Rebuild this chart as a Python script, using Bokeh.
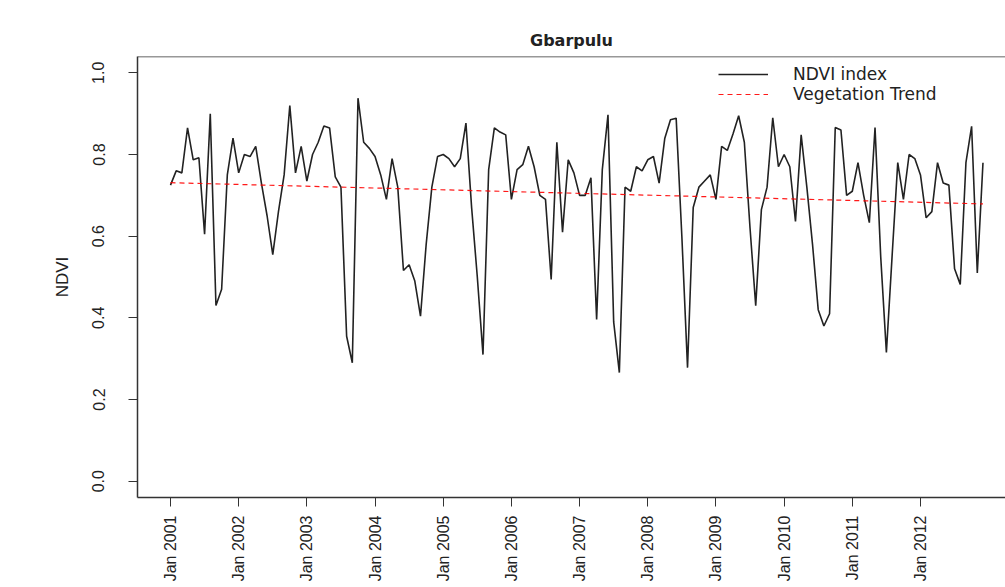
import numpy as np
from bokeh.plotting import figure
from bokeh.models import FixedTicker, Span, Legend, LegendItem, Range1d
from bokeh.embed import file_html
from bokeh.resources import INLINE

# ---- data (monthly NDVI, Jan 2001 .. Dec 2012) ----
start_year = 2001
ndvi = [
    0.725, 0.760, 0.755, 0.865, 0.787, 0.792, 0.605, 0.900, 0.430, 0.470, 0.750, 0.840,  # 2001
    0.755, 0.800, 0.795, 0.820, 0.730, 0.650, 0.555, 0.660, 0.750, 0.920, 0.755, 0.820,  # 2002
    0.735, 0.800, 0.830, 0.870, 0.865, 0.745, 0.720, 0.355, 0.290, 0.938, 0.830, 0.815,  # 2003
    0.795, 0.750, 0.690, 0.790, 0.720, 0.516, 0.530, 0.490, 0.404, 0.580, 0.720, 0.795,  # 2004
    0.800, 0.790, 0.770, 0.790, 0.877, 0.670, 0.500, 0.310, 0.763, 0.865, 0.855, 0.848,  # 2005
    0.690, 0.763, 0.775, 0.820, 0.770, 0.700, 0.690, 0.494, 0.830, 0.610, 0.787, 0.755,  # 2006
    0.700, 0.700, 0.743, 0.396, 0.763, 0.897, 0.390, 0.266, 0.720, 0.710, 0.770, 0.760,  # 2007
    0.787, 0.795, 0.730, 0.840, 0.885, 0.889, 0.600, 0.278, 0.670, 0.720, 0.735, 0.750,  # 2008
    0.690, 0.820, 0.810, 0.850, 0.895, 0.830, 0.620, 0.430, 0.665, 0.720, 0.890, 0.770,  # 2009
    0.800, 0.770, 0.636, 0.848, 0.720, 0.580, 0.420, 0.380, 0.410, 0.866, 0.860, 0.700,  # 2010
    0.710, 0.780, 0.700, 0.633, 0.866, 0.550, 0.315, 0.550, 0.780, 0.690, 0.800, 0.790,  # 2011
    0.750, 0.645, 0.660, 0.780, 0.730, 0.725, 0.520, 0.482, 0.780, 0.869, 0.510, 0.780,  # 2012
]
trend_ends = [0.731, 0.679]          # fitted trend at first and last month
year_ticks = [2001, 2002, 2003, 2004, 2005, 2006, 2007, 2008, 2009, 2010, 2011, 2012]
year_labels = ["Jan 2001", "Jan 2002", "Jan 2003", "Jan 2004", "Jan 2005", "Jan 2006",
               "Jan 2007", "Jan 2008", "Jan 2009", "Jan 2010", "Jan 2011", "Jan 2012"]
y_ticks = [0.0, 0.2, 0.4, 0.6, 0.8, 1.0]
y_labels = ["0.0", "0.2", "0.4", "0.6", "0.8", "1.0"]

t = [start_year + i / 12 for i in range(len(ndvi))]

NARROW = "Liberation Sans"
INK = "#222222"

p = figure(width=1005, height=587, output_backend="svg", toolbar_location=None,
           title="Gbarpulu",
           x_range=Range1d(2000.516, 2013.247), y_range=Range1d(-0.04, 1.04),
           min_border_left=137, min_border_right=0, min_border_top=56, min_border_bottom=90)
p.background_fill_color = "white"
p.border_fill_color = "white"
p.outline_line_color = None
p.xgrid.grid_line_color = None
p.ygrid.grid_line_color = None

p.title.text_font = "DejaVu Sans"
p.title.text_font_style = "bold"
p.title.text_font_size = "16px"
p.title.text_color = INK
p.title.align = "center"
p.title.standoff = 14

# x axis
p.xaxis.ticker = FixedTicker(ticks=year_ticks)
p.xaxis.major_label_overrides = dict(zip(year_ticks, year_labels))
p.xaxis.major_label_orientation = np.pi / 2
p.xaxis.major_label_text_font = NARROW
p.xaxis.major_label_text_font_size = "16px"
p.xaxis.major_label_text_color = INK
p.xaxis.major_label_standoff = 9
p.xaxis.major_tick_out = 9
p.xaxis.major_tick_in = 0
p.xaxis.minor_tick_line_color = None
p.xaxis.axis_line_color = "#333333"
p.xaxis.axis_line_width = 1.3
p.xaxis.major_tick_line_color = "#333333"

# y axis
p.yaxis.ticker = FixedTicker(ticks=y_ticks)
p.yaxis.major_label_overrides = dict(zip(y_ticks, y_labels))
p.yaxis.major_label_orientation = "vertical"
p.yaxis.major_label_text_font = NARROW
p.yaxis.major_label_text_font_size = "16px"
p.yaxis.major_label_text_color = INK
p.yaxis.major_label_standoff = 24
p.yaxis.major_tick_out = 9
p.yaxis.major_tick_in = 0
p.yaxis.minor_tick_line_color = None
p.yaxis.axis_line_color = "#333333"
p.yaxis.axis_line_width = 1.5
p.yaxis.major_tick_line_color = "#333333"
p.yaxis.axis_label = "NDVI"
p.yaxis.axis_label_text_font = NARROW
p.yaxis.axis_label_text_font_size = "17px"
p.yaxis.axis_label_text_font_style = "normal"
p.yaxis.axis_label_text_color = INK
p.yaxis.axis_label_standoff = 18

# top border of the box
p.add_layout(Span(location=1.04, dimension="width", line_color="#333333", line_width=1.5))

r_ndvi = p.line(t, ndvi, line_color="#222222", line_width=1.6)
r_trend = p.line([t[0], t[-1]], trend_ends, line_color="red", line_dash="5 4", line_width=1.2,
                 line_alpha=0.9)

legend = Legend(items=[LegendItem(label="NDVI index", renderers=[r_ndvi]),
                       LegendItem(label="Vegetation Trend", renderers=[r_trend])],
                location=(581, 393), border_line_color=None, background_fill_alpha=0,
                glyph_width=50, glyph_height=18, label_height=18, label_standoff=25,
                spacing=0, padding=0, margin=0,
                label_text_font="DejaVu Sans", label_text_font_size="17px",
                label_text_color=INK)
p.add_layout(legend)

open("out.html", "w").write(file_html(p, INLINE))
